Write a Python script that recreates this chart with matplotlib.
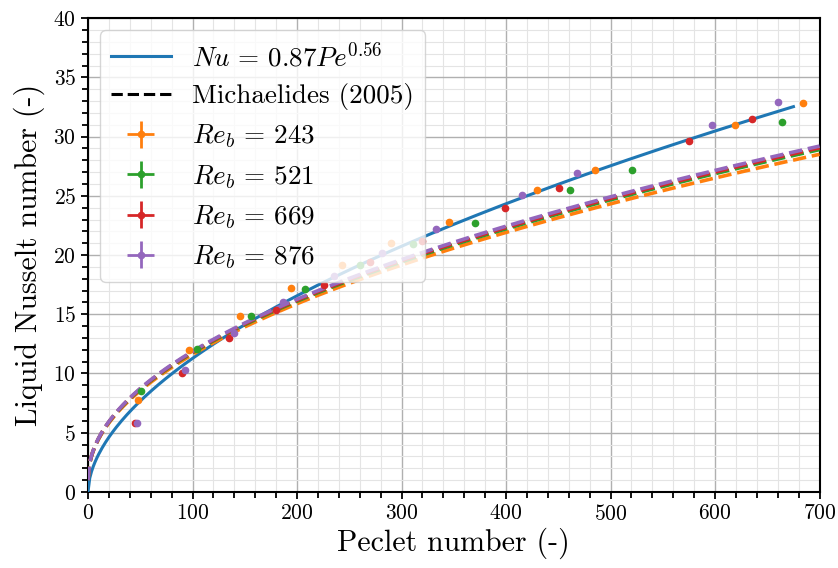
import numpy as np
import matplotlib
matplotlib.use("Agg")
import matplotlib.pyplot as plt
from matplotlib.lines import Line2D
from matplotlib.ticker import MultipleLocator

plt.rcParams['font.family'] = 'cmr10'
plt.rcParams['mathtext.fontset'] = 'cm'
plt.rcParams['axes.formatter.use_mathtext'] = True

# measured points, one pair of lists per bubble Reynolds number
re_labels = [243, 521, 669, 876]
pe_243 = [48, 97, 145, 194, 243, 290, 345, 430, 485, 619, 684]
nu_243 = [7.8, 12.0, 14.85, 17.2, 19.2, 21.0, 22.8, 25.5, 27.2, 31.0, 32.8]
pe_521 = [51, 104, 156, 208, 260, 311, 370, 461, 521, 664]
nu_521 = [8.5, 12.1, 14.85, 17.15, 19.2, 20.9, 22.7, 25.5, 27.2, 31.2]
pe_669 = [45, 90, 135, 180, 226, 270, 320, 399, 451, 575, 635]
nu_669 = [5.85, 10.0, 13.0, 15.35, 17.5, 19.4, 21.2, 24.0, 25.7, 29.6, 31.45]
pe_876 = [46.5, 93, 140, 187, 235, 281, 333, 415, 468, 597, 660]
nu_876 = [5.85, 10.3, 13.45, 16.0, 18.2, 20.2, 22.2, 25.05, 26.9, 31.0, 32.9]

# fitted correlation (legend shows the rounded values 0.87 / 0.56)
fit_c = 0.875
fit_n = 0.555
fit_pe_max = 675

# Michaelides (2005) curves, Nu = 1 + a Pe^0.49 (a read per Re)
mich_a = [1.110, 1.126, 1.132, 1.138]
mich_n = 0.49

colors = ['C1', 'C2', 'C3', 'C4']
pe_sets = [pe_243, pe_521, pe_669, pe_876]
nu_sets = [nu_243, nu_521, nu_669, nu_876]

fig, ax = plt.subplots(figsize=(8.38, 5.68), dpi=100)
fig.subplots_adjust(left=0.105, right=0.978, top=0.968, bottom=0.134)

pe_fit = np.linspace(0, fit_pe_max, 400)
fit_line, = ax.plot(pe_fit, fit_c * pe_fit**fit_n, color='C0', lw=2.2, zorder=3)

pe_m = np.linspace(0, 700, 500)
for a, c in zip(mich_a, colors):
    ax.plot(pe_m, 1 + a * pe_m**mich_n, color=c, lw=2.6, ls='--', zorder=3)

err_handles = []
for pe, nu, c in zip(pe_sets, nu_sets, colors):
    h = ax.errorbar(pe, nu, xerr=np.zeros(len(pe)), yerr=np.zeros(len(pe)),
                    fmt='o', color=c, ms=4.5, elinewidth=2, zorder=4)
    err_handles.append(h)

mich_proxy = Line2D([], [], color='k', ls='--', lw=2.2)
labels = [r'$Nu\,=\,0.87Pe^{0.56}$', 'Michaelides (2005)'] + \
         [r'$Re_b\,=\,%d$' % r for r in re_labels]
ax.legend([fit_line, mich_proxy] + err_handles, labels, loc='upper left',
          fontsize=19.5, handlelength=2.2, handletextpad=0.8, labelspacing=0.46,
          borderpad=0.4, borderaxespad=0.45, framealpha=0.8)

ax.set_xlim(0, 700)
ax.set_ylim(0, 40)
ax.xaxis.set_major_locator(MultipleLocator(100))
ax.xaxis.set_minor_locator(MultipleLocator(20))
ax.yaxis.set_major_locator(MultipleLocator(5))
ax.yaxis.set_minor_locator(MultipleLocator(1))
ax.grid(which='major', color='#b0b0b0', lw=1.0)
ax.grid(which='minor', color='#e4e4e4', lw=0.8)
ax.set_axisbelow(True)
ax.tick_params(which='both', direction='out', labelsize=15.5, width=1.3)
ax.tick_params(which='major', length=5)
ax.tick_params(which='minor', length=4)
for s in ax.spines.values():
    s.set_linewidth(1.5)

ax.set_xlabel('Peclet number (-)', fontsize=21.5, labelpad=3)
ax.set_ylabel('Liquid Nusselt number (-)', fontsize=21.5, labelpad=6)

fig.savefig('out.png', dpi=100)
